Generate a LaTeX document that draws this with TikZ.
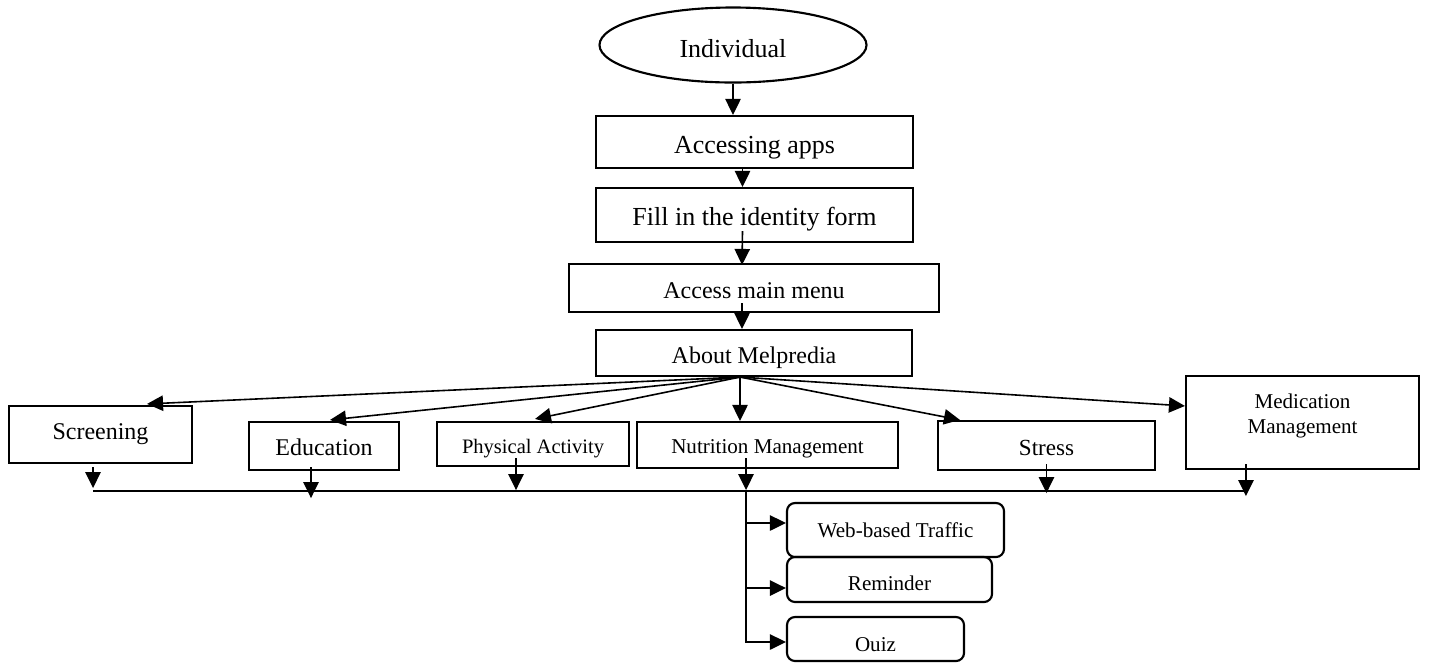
\documentclass[tikz,border=0pt]{standalone}
\usepackage{fontspec}
\setmainfont{Liberation Serif}
\usetikzlibrary{arrows.meta,shapes.geometric}
\begin{document}
\begin{tikzpicture}[x=0.75pt,y=-0.75pt,
  box/.style={draw,line width=1.6pt,inner sep=0pt,align=center},
  rbox/.style={box,rounded corners=6pt},
  bl/.style={text height=#1,text depth=0pt},
  arr/.style={line width=1.2pt,-{Triangle[length=12pt,width=11.5pt]}},
  ln/.style={line width=1.2pt},
  big/.style={font=\fontsize{19.5}{23}\selectfont},
  mid/.style={font=\fontsize{18}{21}\selectfont},
  sml/.style={font=\fontsize{15.8}{18.75}\selectfont}]
\useasboundingbox (0,0) rectangle (1434,662);

% main column
\node[box,ellipse,big,bl=18pt,minimum width=200.25pt,minimum height=56.25pt] (ind) at (733,45) {Individual};
\node[box,big,bl=16.5pt,minimum width=237.75pt,minimum height=39pt] (apps) at (754.5,142) {Accessing apps};
\node[box,big,bl=15pt,minimum width=237.75pt,minimum height=40.5pt] (fill) at (754.5,215) {Fill in the identity form};
\node[box,mid,bl=15pt,minimum width=277.5pt,minimum height=36pt] (menu) at (754,288) {Access main menu};
\node[box,mid,bl=15pt,minimum width=237pt,minimum height=34.5pt] (about) at (754,353) {About Melpredia};

% children
\node[box,mid,bl=7pt,minimum width=137.25pt,minimum height=42.75pt] (scr) at (100.5,434.5) {Screening};
\node[box,mid,bl=13.5pt,minimum width=112.5pt,minimum height=36pt] (edu) at (324,446) {Education};
\node[box,font=\fontsize{15.4}{18}\selectfont,bl=13.5pt,minimum width=144pt,minimum height=33pt] (pa) at (533,444) {Physical Activity};
\node[box,sml,bl=12pt,minimum width=195.75pt,minimum height=34.5pt] (nut) at (767.5,445) {Nutrition Management};
\node[box,font=\fontsize{17.3}{20}\selectfont,bl=14.3pt,minimum width=162.75pt,minimum height=36.75pt] (str) at (1046.5,445.5) {Stress};
\node[box,minimum width=174.75pt,minimum height=69.75pt] (med) at (1302.5,422.5) {};
\node[sml,align=center,inner sep=0pt] (medtxt) at (1302.5,416) {Medication\\Management};

% sub-items
\node[rbox,sml,bl=10.5pt,minimum width=162.75pt,minimum height=40.5pt] (web) at (895.5,530) {Web-based Traffic};
\node[rbox,sml,bl=15.8pt,minimum width=153.75pt,minimum height=33.75pt] (rem) at (889.5,579.5) {Reminder};
\node[rbox,sml,bl=18pt,minimum width=132.75pt,minimum height=33pt] (quiz) at (875.5,639) {Ouiz};

% main column arrows
\draw[arr] (ind.south) -- (ind.south |- apps.north);
\draw[arr] ([xshift=-9pt]apps.south) -- ([xshift=-9pt]fill.north);
\draw[arr] ([xshift=-9pt,yshift=9pt]fill.south) -- ([xshift=-9pt,yshift=-1.5pt]menu.north);
\draw[arr] ([xshift=-9pt,yshift=7.5pt]menu.south) -- ([xshift=-9pt]about.north);

% fan-out
\coordinate (hub) at ([xshift=-10.5pt]about.south);
\draw[arr] (hub) -- ([xshift=34.9pt,yshift=0.75pt]scr.north);
\draw[arr] (hub) -- ([xshift=4.5pt,yshift=0.75pt]edu.north);
\draw[arr] (hub) -- ([xshift=1.5pt,yshift=1.5pt]pa.north);
\draw[arr] (hub) -- (hub |- nut.north);
\draw[arr] (hub) -- ([xshift=-64.9pt]str.north);
\draw[arr] (hub) -- ([yshift=12.4pt]med.west);

% collector arrows
\draw[arr] ([xshift=-5.6pt,yshift=-2.25pt]scr.south) -- ++(0,21);
\draw[arr] ([xshift=-9.75pt,yshift=3pt]edu.south) -- ++(0,31);
\draw[arr] ([xshift=-12.75pt,yshift=6.75pt]pa.south) -- ++(0,32);
\draw[arr] ([xshift=-16.1pt,yshift=8.25pt]nut.south) -- ++(0,32);
\draw[arr] ([yshift=5.25pt]str.south) -- ++(0,29);
\draw[arr] ([xshift=-42.4pt,yshift=4.5pt]med.south) -- ++(0,32);

% bus line and trunk
\coordinate (busL) at (93,491);
\coordinate (busR) at (1246,491);
\coordinate (trunk) at (746,491);
\draw[ln] (busL) -- (busR);
\coordinate (webin) at ([yshift=5.25pt]web.west);
\coordinate (remin) at ([yshift=-6.4pt]rem.west);
\coordinate (quizin) at ([yshift=-2.25pt]quiz.west);
\draw[arr] (trunk) |- (quizin);
\draw[arr] (webin -| trunk) -- (webin);
\draw[arr] (remin -| trunk) -- (remin);
\end{tikzpicture}
\end{document}
